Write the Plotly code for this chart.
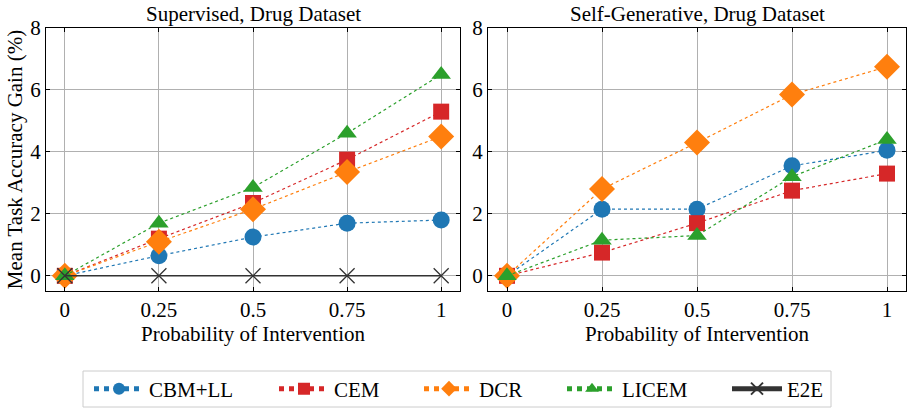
import plotly.graph_objects as go

x_vals = [0, 0.25, 0.5, 0.75, 1]
x_ticktext = ["0", "0.25", "0.5", "0.75", "1"]

methods = ["CBM+LL", "CEM", "DCR", "LICEM", "E2E"]
colors = ["#1f77b4", "#d62728", "#ff7f0e", "#2ca02c", "#333333"]
symbols = ["circle", "square", "diamond", "triangle-up", "x-thin-open"]
sizes = [17, 16, 20, 17, 15]
legend_ids = ["legend", "legend2", "legend3", "legend4", "legend5"]
legend_x_px = [90, 275, 420, 563, 728]

sup_cbm = [0, 0.65, 1.25, 1.7, 1.8]
sup_cem = [0, 1.2, 2.35, 3.75, 5.3]
sup_dcr = [0, 1.1, 2.15, 3.35, 4.5]
sup_licem = [0, 1.7, 2.85, 4.6, 6.5]
sup_e2e = [0, 0, 0, 0, 0]

gen_cbm = [0, 2.15, 2.15, 3.55, 4.05]
gen_cem = [0, 0.75, 1.7, 2.75, 3.3]
gen_dcr = [0, 2.8, 4.3, 5.85, 6.75]
gen_licem = [0, 1.15, 1.3, 3.2, 4.4]

sup = [sup_cbm, sup_cem, sup_dcr, sup_licem, sup_e2e]
gen = [gen_cbm, gen_cem, gen_dcr, gen_licem]

FONT = "Liberation Serif, Times New Roman, serif"
FS = 21

fig = go.Figure()

def add(data, i, xa, ya, show):
    is_e2e = methods[i] == "E2E"
    fig.add_trace(go.Scatter(
        x=x_vals, y=data, mode="lines+markers", name=methods[i],
        xaxis=xa, yaxis=ya, showlegend=show, legendgroup=methods[i],
        legend=legend_ids[i],
        line=dict(color=colors[i], width=1.5 if is_e2e else 1.2,
                  dash="solid" if is_e2e else "dot"),
        marker=dict(symbol=symbols[i], size=sizes[i], color=colors[i],
                    line=dict(width=1.3 if is_e2e else 0, color=colors[i])),
    ))

for i, d in enumerate(sup):
    add(d, i, "x", "y", True)
for i, d in enumerate(gen):
    add(d, i, "x2", "y2", False)

axis_common = dict(
    showgrid=True, gridcolor="#b0b0b0", gridwidth=1,
    showline=True, linecolor="black", linewidth=1, mirror="allticks",
    ticks="inside", ticklen=4, tickcolor="black",
    tickfont=dict(family=FONT, size=FS, color="black"),
    zeroline=False, automargin=False,
)

W, H = 908, 408
def px_x(a, b):
    return [a / W, b / W]
def px_y(top, bottom):
    return [1 - bottom / H, 1 - top / H]

legends = {}
for i, lid in enumerate(legend_ids):
    legends[lid] = dict(orientation="h", x=(legend_x_px[i] - 1) / W, xanchor="left",
                        y=1 - 389 / H, yanchor="middle", borderwidth=0,
                        bgcolor="rgba(0,0,0,0)", font=dict(family=FONT, size=FS),
                        itemwidth=50, itemsizing="constant")

fig.update_layout(
    width=W, height=H,
    margin=dict(l=0, r=0, t=0, b=0, autoexpand=False),
    plot_bgcolor="white", paper_bgcolor="white",
    font=dict(family=FONT, color="black"),
    xaxis=dict(domain=px_x(46, 460), range=[-0.05, 1.05], tickvals=x_vals,
               ticktext=x_ticktext, anchor="y",
               title=dict(text="Probability of Intervention", font=dict(family=FONT, size=FS), standoff=0),
               **axis_common),
    yaxis=dict(domain=px_y(28, 291), range=[-0.49, 8], tickvals=[0, 2, 4, 6, 8], anchor="x",
               title=dict(text="Mean Task Accuracy Gain (%)", font=dict(family=FONT, size=FS), standoff=1),
               **axis_common),
    xaxis2=dict(domain=px_x(488, 906), range=[-0.05, 1.05], tickvals=x_vals,
                ticktext=x_ticktext, anchor="y2",
                title=dict(text="Probability of Intervention", font=dict(family=FONT, size=FS), standoff=0),
                **axis_common),
    yaxis2=dict(domain=px_y(28, 291), range=[-0.49, 8], tickvals=[0, 2, 4, 6, 8], anchor="x2",
                **axis_common),
    shapes=[dict(type="rect", xref="paper", yref="paper",
                 x0=83 / W, x1=831 / W, y0=1 - 407 / H, y1=1 - 371 / H,
                 line=dict(color="#cccccc", width=1), fillcolor="rgba(0,0,0,0)", layer="below")],
    annotations=[
        dict(text="Supervised, Drug Dataset", x=253 / W, y=1 - 14 / H, xref="paper", yref="paper",
             showarrow=False, font=dict(family=FONT, size=FS), xanchor="center", yanchor="middle"),
        dict(text="Self-Generative, Drug Dataset", x=697 / W, y=1 - 14 / H, xref="paper", yref="paper",
             showarrow=False, font=dict(family=FONT, size=FS), xanchor="center", yanchor="middle"),
    ],
    **legends,
)

fig.write_html("out.html", config={"displayModeBar": False},
               post_script="document.body.style.margin='0';document.body.style.padding='0';")
